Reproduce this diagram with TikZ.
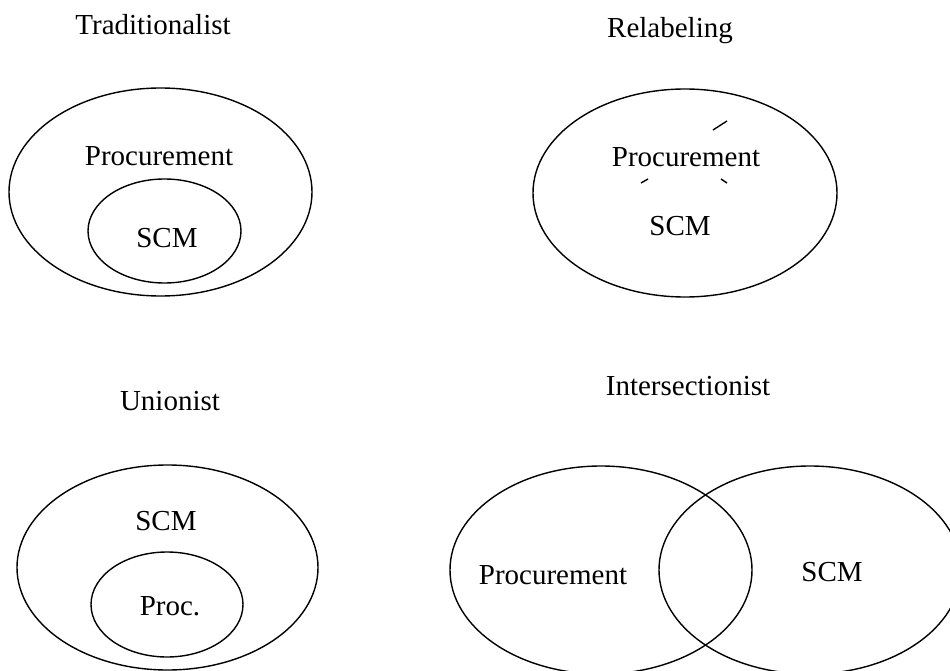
\documentclass[tikz,border=0pt]{standalone}
\usepackage{fontspec}
\setmainfont{Liberation Serif}
\usepackage{tikz}
\usetikzlibrary{positioning}

\begin{document}
\begin{tikzpicture}[x=1pt,y=-1pt,every node/.style={anchor=base,inner sep=0pt,
    font=\fontsize{29}{34}\selectfont}, set/.style={line width=1.4pt}]

  \useasboundingbox (0,0) rectangle (950,671);
  \clip (0,0) rectangle (950,671);

  % traditionalist
  \begin{scope}
    \node (tradtitle) at (153,35) {Traditionalist};
    \draw[set] (160.5,192) ellipse (151.5 and 104);
    \draw[set] (164.5,231) ellipse (76.5 and 52);
    \node (tradproc) at (159,166) {Procurement};
    \node (tradscm) at (167,247) {SCM};
  \end{scope}

  % relabeling
  \begin{scope}
    \node (reltitle) at (670,38) {Relabeling};
    \draw[set] (685,193) ellipse (152 and 104);
    \node (relproc) at (686,167) {Procurement};
    \node (relscm) at (680,235) {SCM};
    % leftover strokes
    \draw[set] (713,130) -- (727,121);
    \draw[set] (641,183) -- (648,179);
    \draw[set] (721,179) -- (727,183);
  \end{scope}

  % unionist
  \begin{scope}
    \node (unititle) at (170,410) {Unionist};
    \draw[set] (167.5,567.5) ellipse (150.5 and 102.5);
    \draw[set] (167,604.5) ellipse (76 and 52.5);
    \node (uniscm) at (166,530) {SCM};
    \node (uniproc) at (170,615) {Proc.};
  \end{scope}

  % intersectionist
  \begin{scope}
    \node (inttitle) at (688,395) {Intersectionist};
    \draw[set] (601,570) ellipse (151 and 104);
    \draw[set] (810,570) ellipse (151 and 104);
    \node (intproc) at (553,584) {Procurement};
    \node (intscm) at (832,581) {SCM};
  \end{scope}

\end{tikzpicture}
\end{document}
